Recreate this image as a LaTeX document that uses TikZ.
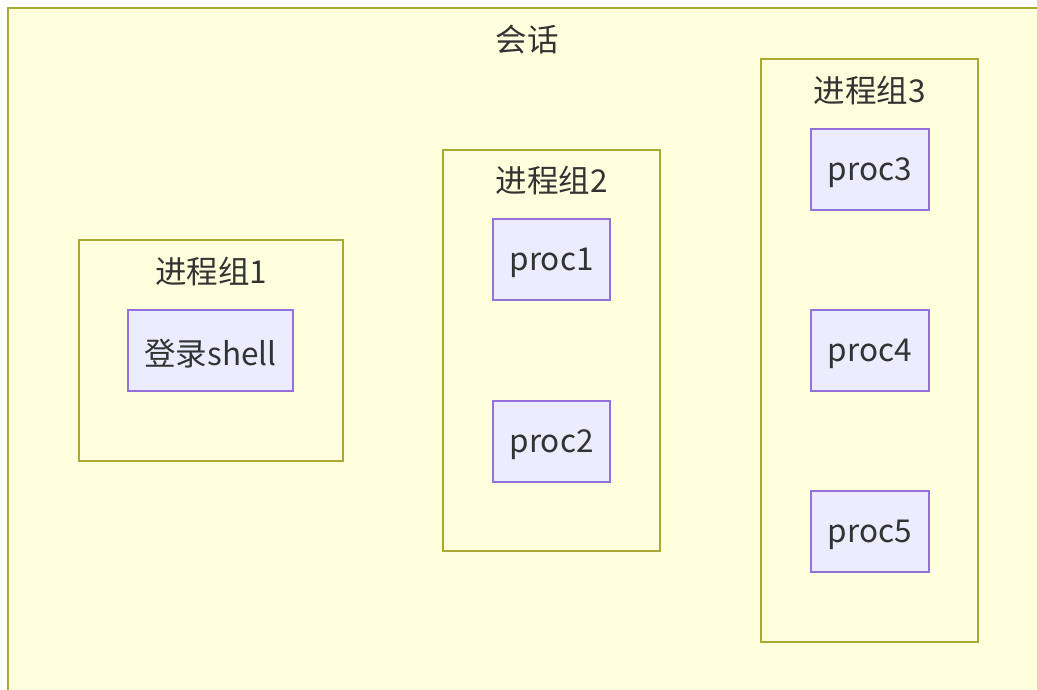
\documentclass[tikz,border=0pt]{standalone}
\usepackage{fontspec}
\newfontfamily\cjk{Noto Sans CJK SC}
\definecolor{grpfill}{HTML}{FFFFDE}
\definecolor{grpline}{HTML}{AAAA33}
\definecolor{nodefill}{HTML}{ECECFF}
\definecolor{nodeline}{HTML}{9370DB}
\definecolor{txt}{HTML}{333333}
\tikzset{
  grp/.style={draw=grpline, fill=grpfill, line width=2pt},
  proc/.style={draw=nodeline, fill=nodefill, line width=1.5pt},
  lbl/.style={text=txt, font=\cjk\fontsize{31.5}{36}\selectfont, inner sep=0pt, anchor=center, yshift=-3pt}
}
\begin{document}
\begin{tikzpicture}[x=1pt,y=-1pt]
\useasboundingbox (0,0) rectangle (1037,689);
\clip (0,0) rectangle (1037,689);
\fill[white] (0,0) rectangle (1037,689);
% session
\draw[grp] (8,8) rectangle (1050,700);
\node[lbl] (session) at (527,37) {会话};
% group 1
\draw[grp] (79,240) rectangle (343,461);
\node[lbl] (g1) at (211,268) {进程组1};
\draw[proc] (128,310) rectangle (293,391);
\node[lbl] (shell) at (210.5,351) {登录shell};
% group 2
\draw[grp] (443,150) rectangle (660,551);
\node[lbl] (g2) at (551.5,177) {进程组2};
\draw[proc] (493,219) rectangle (610,300);
\node[lbl] (p1) at (551.5,260) {proc1};
\draw[proc] (493,401) rectangle (610,482);
\node[lbl] (p2) at (551.5,442) {proc2};
% group 3
\draw[grp] (761,59) rectangle (978,642);
\node[lbl] (g3) at (869.5,87) {进程组3};
\draw[proc] (811,129) rectangle (929,210);
\node[lbl] (p3) at (870,170) {proc3};
\draw[proc] (811,310) rectangle (929,391);
\node[lbl] (p4) at (870,351) {proc4};
\draw[proc] (811,491) rectangle (929,572);
\node[lbl] (p5) at (870,532) {proc5};
\end{tikzpicture}
\end{document}
